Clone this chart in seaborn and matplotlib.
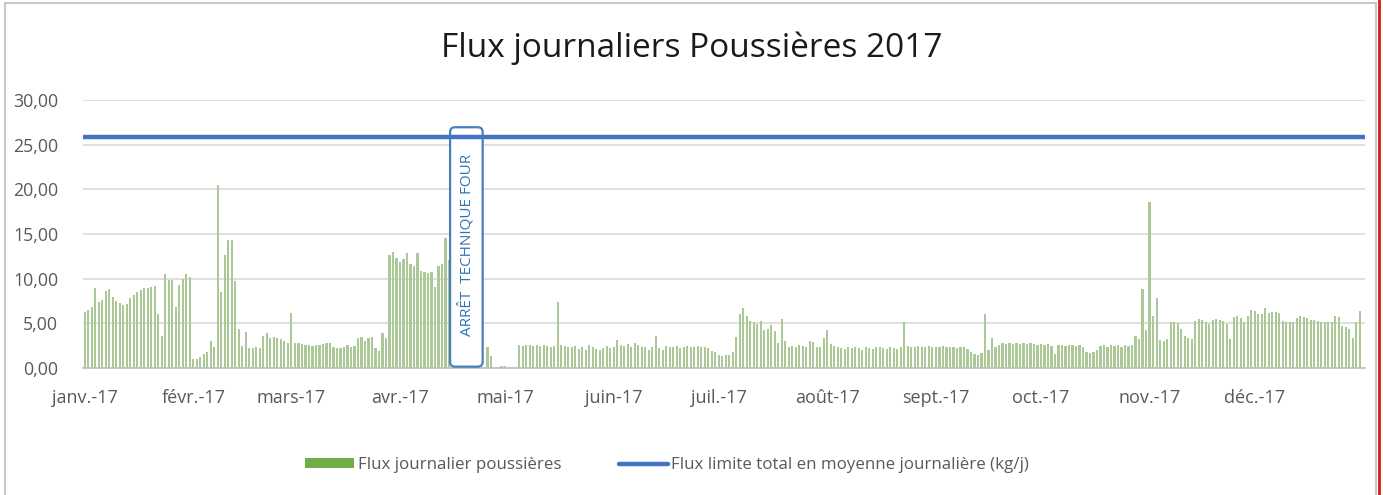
import numpy as np
import pandas as pd
import matplotlib
matplotlib.use("Agg")
import matplotlib.pyplot as plt
from matplotlib.patches import FancyBboxPatch, Rectangle
from matplotlib.lines import Line2D
from matplotlib.patches import Patch
import seaborn as sns

# Daily dust flux (kg/j), one list per month of 2017
janv = [6.3, 6.5, 6.8, 8.9, 7.4, 7.6, 8.6, 8.8, 8.0, 7.5, 7.3, 7.0, 7.2, 7.8, 8.2, 8.5,
        8.7, 8.9, 9.0, 9.1, 9.2, 6.0, 3.6, 10.5, 9.8, 9.8, 6.8, 9.3, 10.0, 10.5, 10.2]
fevr = [1.0, 1.0, 1.2, 1.6, 1.8, 3.0, 2.3, 20.5, 8.5, 12.6, 14.3, 14.3, 9.7, 4.4, 2.5,
        4.0, 2.2, 2.2, 2.3, 2.2, 3.6, 3.9, 3.4, 3.5, 3.4, 3.3, 3.0, 2.8]
mars = [6.2, 2.8, 2.8, 2.7, 2.6, 2.6, 2.5, 2.6, 2.6, 2.7, 2.8, 2.8, 2.3, 2.2, 2.2, 2.3,
        2.6, 2.4, 2.5, 3.4, 3.5, 3.0, 3.4, 3.5, 2.2, 1.9, 3.9, 3.4, 12.6, 13.0, 12.3]
avr = [11.9, 12.2, 12.9, 11.6, 11.4, 12.9, 10.9, 10.8, 10.6, 10.7, 9.1, 11.4, 11.6, 14.5,
       12.1, 0, 0, 0, 0, 0, 0, 0, 0, 0, 0, 2.4, 1.3, 0, 0, 0.2]
mai = [0.2, 0, 0, 0, 2.6, 2.5, 2.6, 2.6, 2.5, 2.6, 2.5, 2.6, 2.5, 2.4, 2.5, 7.4, 2.6,
       2.5, 2.4, 2.4, 2.5, 2.1, 2.4, 2.0, 2.6, 2.3, 2.1, 2.0, 2.2, 2.5, 2.2]
juin = [2.4, 3.1, 2.6, 2.5, 2.7, 2.4, 2.8, 2.6, 2.3, 2.4, 2.0, 2.4, 3.6, 2.2, 2.0, 2.5,
        2.4, 2.3, 2.5, 2.2, 2.4, 2.5, 2.3, 2.4, 2.5, 2.3, 2.4, 2.2, 1.9, 1.8]
juil = [1.4, 1.3, 1.5, 1.4, 1.8, 3.5, 6.1, 6.7, 5.8, 5.3, 5.1, 4.9, 5.3, 4.3, 4.4, 4.8,
        4.1, 2.8, 5.5, 3.0, 2.4, 2.5, 2.4, 2.6, 2.5, 2.4, 3.0, 2.9, 2.3, 2.4, 3.4]
aout = [4.3, 2.7, 2.5, 2.3, 2.2, 2.1, 2.3, 2.2, 2.3, 2.2, 2.0, 2.3, 2.2, 2.1, 2.3, 2.4,
        2.2, 2.1, 2.3, 2.2, 2.1, 2.3, 5.2, 2.5, 2.3, 2.4, 2.5, 2.3, 2.4, 2.5, 2.3]
sept = [2.4, 2.3, 2.5, 2.4, 2.4, 2.3, 2.2, 2.3, 2.3, 2.1, 1.8, 1.6, 1.5, 1.7, 6.0, 2.0,
        3.4, 2.3, 2.6, 2.8, 2.7, 2.8, 2.7, 2.8, 2.7, 2.8, 2.7, 2.8, 2.7, 2.6]
octo = [2.7, 2.6, 2.7, 2.5, 1.6, 2.6, 2.6, 2.5, 2.6, 2.6, 2.5, 2.6, 2.4, 1.8, 1.7, 1.8,
        2.0, 2.5, 2.6, 2.4, 2.6, 2.5, 2.6, 2.4, 2.6, 2.5, 2.6, 3.6, 3.2, 8.8, 4.2]
nov = [18.6, 5.8, 7.8, 3.1, 3.0, 3.2, 5.1, 5.2, 5.0, 4.4, 3.6, 3.4, 3.3, 5.3, 5.5, 5.4,
       5.2, 4.9, 5.4, 5.5, 5.4, 5.3, 4.9, 3.3, 5.7, 5.8, 5.6, 5.2, 5.8, 6.5]
dec = [6.4, 6.1, 6.0, 6.7, 6.2, 6.3, 6.3, 6.2, 5.3, 5.2, 5.1, 5.2, 5.6, 5.8, 5.7, 5.6,
       5.4, 5.4, 5.3, 5.2, 5.1, 5.2, 5.2, 5.8, 5.7, 4.7, 4.6, 4.4, 3.4, 5.1, 6.4]

# Total limit flux, daily average (kg/j)
limite = 25.9

mois_labels = ["janv.-17", "févr.-17", "mars-17", "avr.-17", "mai-17", "juin-17",
               "juil.-17", "août-17", "sept.-17", "oct.-17", "nov.-17", "déc.-17"]
y_ticks = [0, 5, 10, 15, 20, 25, 30]

# Furnace technical shutdown period
arret_debut, arret_fin = "2017-04-16", "2017-04-25"

flux = janv + fevr + mars + avr + mai + juin + juil + aout + sept + octo + nov + dec
dates = pd.date_range("2017-01-01", "2017-12-31", freq="D")
df = pd.DataFrame({"date": dates, "jour": np.arange(len(dates)), "flux": flux})

sns.set_theme(style="white")
plt.rcParams["font.family"] = ["Open Sans", "DejaVu Sans"]

W, H = 1383, 495
fig = plt.figure(figsize=(W / 100, H / 100), dpi=100)
ax = fig.add_axes([83 / W, 1 - 368 / H, (1365 - 83) / W, (368 - 100) / H])

bar_color = "#a9d18e"
sns.barplot(data=df, x="jour", y="flux", native_scale=True, color=bar_color,
            width=0.62, linewidth=0, errorbar=None, ax=ax, zorder=2)

ax.axhline(limite, color="#4472c4", linewidth=3.2, zorder=5)

ax.set_xlim(-0.5, len(dates) + 0.5)
ax.set_ylim(0, 30)
ax.set_yticks(y_ticks)
ax.set_yticklabels([f"{v:.2f}".replace(".", ",") for v in y_ticks])
month_starts = df.loc[df["date"].dt.day == 1, "jour"].to_numpy()
ax.set_xticks(month_starts)
ax.set_xticklabels(mois_labels)
ax.tick_params(axis="both", length=0, colors="#595959")
ax.tick_params(axis="x", pad=15, labelsize=13)
ax.tick_params(axis="y", pad=18, labelsize=12.8)
ax.set_xlabel("")
ax.set_ylabel("")
ax.grid(axis="y", color="#d9d9d9", linewidth=1.2, zorder=0)
ax.set_axisbelow(True)
for side in ["top", "right", "left"]:
    ax.spines[side].set_visible(False)
ax.spines["bottom"].set_color("#bfbfbf")
ax.spines["bottom"].set_linewidth(1.2)

# Shutdown annotation box
j0 = df.loc[df["date"] == arret_debut, "jour"].iloc[0] - 0.7
j1 = df.loc[df["date"] == arret_fin, "jour"].iloc[0] - 0.4
box = FancyBboxPatch((j0, 0.15), j1 - j0, 26.8,
                     boxstyle="round,pad=0,rounding_size=1.4",
                     mutation_aspect=3.5 / 8.93,
                     facecolor="white", edgecolor="#4a7ebb", linewidth=1.6, zorder=4)
ax.add_patch(box)
ax.text((j0 + j1) / 2, 13.8, "ARRÊT  TECHNIQUE FOUR", rotation=90, ha="center",
        va="center", fontsize=11, color="#2e75b6", zorder=6)

fig.suptitle("Flux journaliers Poussières 2017", x=0.5, y=1 - 48 / H, va="center",
             fontsize=24, color="#1a1a1a")

handles = [Patch(facecolor="#70ad47", edgecolor="none"),
           Line2D([0], [0], color="#4472c4", linewidth=3.2)]
fig.legend(handles, ["Flux journalier poussières",
                     "Flux limite total en moyenne journalière (kg/j)"],
           loc="center", bbox_to_anchor=(667 / W, 1 - 465 / H), ncol=2, frameon=False,
           fontsize=12.2, labelcolor="#595959", handlelength=2.9, handleheight=0.45,
           handletextpad=0.2, columnspacing=3.4)

# Chart frame
fig.patches.append(Rectangle((5 / W, -0.05), (1376 - 5) / W, 1.05 - 3 / H,
                             transform=fig.transFigure, fill=False,
                             edgecolor="#c8c8c8", linewidth=1.5))
fig.lines.append(Line2D([1379 / W, 1379 / W], [0, 1], transform=fig.transFigure,
                        color="#e3151a", linewidth=2))

fig.savefig("out.png", dpi=100, facecolor="white")
